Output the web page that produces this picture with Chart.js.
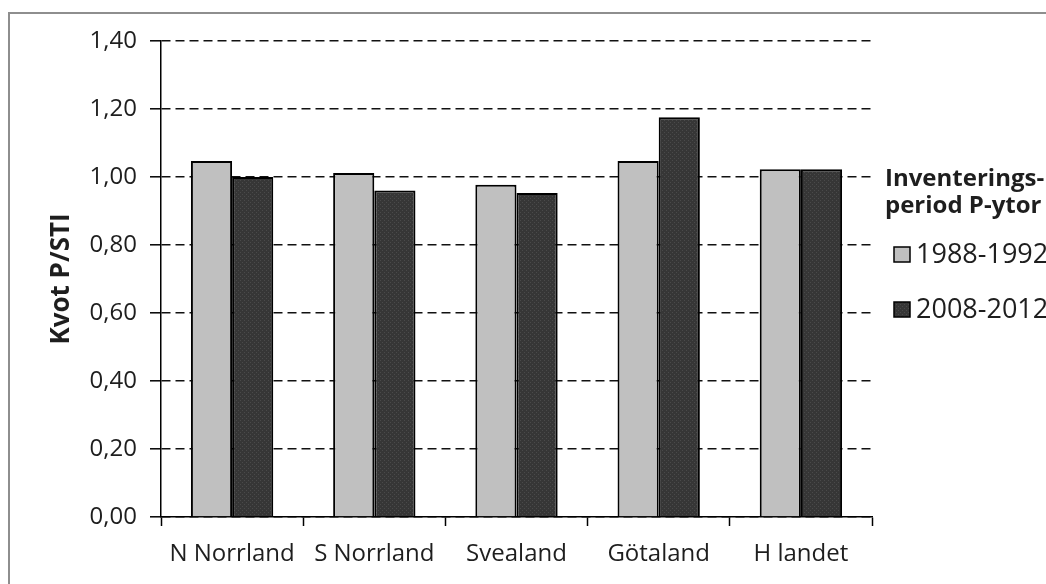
<!DOCTYPE html>
<html>
<head>
<meta charset="utf-8">
<script src="https://cdn.jsdelivr.net/npm/chart.js@4/dist/chart.umd.min.js"></script>
<style>
  html, body { margin: 0; padding: 0; background: #ffffff; }
  #wrap { width: 1046px; height: 584px; position: relative; }
</style>
</head>
<body>
<div id="wrap"><canvas id="c" width="1046" height="584"></canvas></div>
<script>
// Regions and ratio P/STI per inventory period
const regions = ['N Norrland', 'S Norrland', 'Svealand', 'Götaland', 'H landet'];
const period1988 = [1.047, 1.012, 0.977, 1.047, 1.023];
const period2008 = [1.000, 0.960, 0.953, 1.176, 1.023];
const seriesNames = ['1988-1992', '2008-2012'];
const legendTitle = ['Inventerings-', 'period P-ytor'];
const axisTitle = 'Kvot P/STI';
const yMin = 0, yMax = 1.4, yStep = 0.2;

const FONT = "'Open Sans', 'Noto Sans', sans-serif";
const TEXT = '#1e1e1e';

// dotted dark fill for the second series
function dottedFill() {
  const t = document.createElement('canvas');
  t.width = 4; t.height = 4;
  const g = t.getContext('2d');
  g.fillStyle = '#363636';
  g.fillRect(0, 0, 4, 4);
  g.fillStyle = '#4a4a4a';
  g.fillRect(0, 0, 1, 1);
  g.fillRect(2, 2, 1, 1);
  return g.createPattern(t, 'repeat');
}
const lightFill = '#c0c0c0';
const darkFill = dottedFill();

// outer frame and the right-hand legend
const decorations = {
  id: 'decorations',
  afterDraw(chart) {
    const ctx = chart.ctx;
    ctx.save();
    ctx.strokeStyle = '#8e8e8e';
    ctx.lineWidth = 2;
    ctx.strokeRect(9, 13, 1200, 800);

    ctx.fillStyle = TEXT;
    ctx.textAlign = 'left';
    ctx.textBaseline = 'alphabetic';
    ctx.font = "bold 24px " + FONT;
    ctx.fillText(legendTitle[0], 885, 186);
    ctx.fillText(legendTitle[1], 885, 213);

    const rows = [254, 309];
    chart.data.datasets.forEach((ds, i) => {
      const cy = rows[i];
      ctx.fillStyle = ds.backgroundColor;
      ctx.fillRect(894, cy - 7, 16, 15);
      ctx.strokeStyle = '#000000';
      ctx.lineWidth = 1.5;
      ctx.strokeRect(894, cy - 7, 16, 15);
      ctx.fillStyle = TEXT;
      ctx.font = "27px " + FONT;
      ctx.textBaseline = 'middle';
      ctx.fillText(ds.label, 916, cy + 1);
    });
    ctx.restore();
  }
};

new Chart(document.getElementById('c'), {
  type: 'bar',
  data: {
    labels: regions,
    datasets: [
      { label: seriesNames[0], data: period1988, backgroundColor: lightFill,
        borderColor: '#000000', borderWidth: 2 },
      { label: seriesNames[1], data: period2008, backgroundColor: darkFill,
        borderColor: '#000000', borderWidth: 2 }
    ]
  },
  options: {
    responsive: false,
    animation: false,
    devicePixelRatio: 1,
    layout: { padding: { top: 41, right: 174, bottom: 0, left: 0 } },
    datasets: { bar: { categoryPercentage: 0.579, barPercentage: 1.0 } },
    plugins: {
      legend: { display: false },
      tooltip: { enabled: false },
      title: { display: false }
    },
    scales: {
      x: {
        afterFit(s) { s.height = 67; },
        grid: {
          display: true, drawOnChartArea: false, drawTicks: true,
          tickLength: 9, tickColor: '#000000', tickWidth: 1.5, offset: true
        },
        border: { display: true, color: '#000000', width: 1.5 },
        ticks: { color: TEXT, font: { family: FONT, size: 24 }, padding: 14,
                 maxRotation: 0, autoSkip: false }
      },
      y: {
        min: yMin, max: yMax,
        afterFit(s) { s.width = 161; },
        grid: {
          color: '#111111', lineWidth: 1.6,
          drawTicks: true, tickLength: 11, tickColor: '#000000', tickWidth: 1.5,
          tickBorderDash: []
        },
        border: { display: true, color: '#000000', width: 1.5, dash: [9, 5] },
        ticks: {
          stepSize: yStep, color: TEXT, padding: 13,
          font: { family: FONT, size: 24 },
          callback: v => v.toFixed(2).replace('.', ',')
        },
        title: {
          display: true, text: axisTitle, color: TEXT,
          font: { family: FONT, size: 26, weight: 'bold' },
          padding: { top: 46, bottom: 0 }
        }
      }
    }
  },
  plugins: [decorations]
});
</script>
</body>
</html>
